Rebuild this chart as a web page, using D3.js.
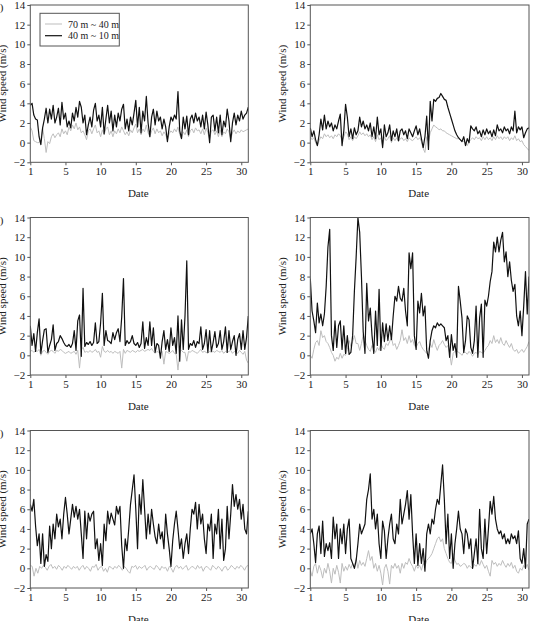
<!DOCTYPE html>
<html><head><meta charset="utf-8">
<script src="https://cdn.jsdelivr.net/npm/d3@7"></script>
<style>
body{margin:0;background:#fff;}
text{font-family:"Liberation Serif","Times New Roman",serif;}
</style></head>
<body>
<svg id="c" width="543" height="621"></svg>
<script>
const yTicks = [-2,0,2,4,6,8,10,12,14];
const xTickVals = [0,5,10,15,20,25,30];
const xTickLabels = ["1","5","10","15","20","25","30"];
const seriesNames = ["70 m ~ 40 m","40 m ~ 10 m"];
const panelTags = ["(a)","(b)","(c)","(d)","(e)","(f)"];

const grayA = [1.6,1.2,0.2,0.1, 0.0,0.0,0.3,1.5, 0.4,-1.0,0.1,-0.1, 0.6,0.9,0.5,0.8, 1.0,0.6,1.4,0.9, 1.2,0.8,1.6,1.2, 1.8,1.4,2.0,1.3, 1.6,1.0,1.2,0.8, 0.3,1.2,1.4,0.9, 1.4,1.8,1.0,1.2, 0.6,1.3,0.8,1.4, 1.6,0.8,1.2,0.6, 1.2,0.9,1.4,1.0, 1.6,1.2,0.8,1.1, 0.7,1.3,1.0,1.5, 1.9,1.0,1.4,0.8, 1.4,1.1,1.8,1.0, 0.6,1.2,1.5,0.9, 1.4,1.0,1.2,0.7, 1.1,0.8,0.3,0.9, 1.2,1.0,1.4,1.1, 1.6,0.8,0.4,1.1, 0.8,1.3,0.6,1.2, 1.4,1.0,1.5,1.2, 1.3,0.9,1.4,0.8, 1.5,1.0,0.4,1.2, 1.3,0.8,1.2,0.6, 1.3,0.6,1.1,0.9, 1.4,1.1,0.4,1.0, 1.3,0.9,1.2,1.0, 1.3,1.1,1.2,1.3, 1.4];
const blackA = [3.8,4.0,2.8,2.4, 2.3,0.6,-0.2,1.5, 2.4,3.5,2.0,3.4, 2.4,3.8,2.0,2.6, 3.5,1.8,4.1,2.4, 3.0,1.6,2.2,1.5, 3.0,2.2,3.6,2.6, 4.2,3.6,2.0,2.8, 0.8,1.8,2.6,1.6, 3.3,4.0,2.2,2.8, 1.6,3.6,0.9,2.4, 3.8,2.0,3.2,1.2, 2.8,1.6,3.0,2.2, 3.4,3.9,1.4,2.4, 1.2,2.6,1.8,3.0, 4.3,1.6,3.6,1.0, 3.2,2.2,4.7,2.0, 0.6,2.6,3.4,1.8, 3.2,2.2,2.6,1.4, 2.4,1.6,0.1,1.6, 2.6,2.2,2.8,2.4, 5.2,1.2,0.4,2.6, 1.4,2.7,0.8,2.4, 2.8,2.0,3.0,2.2, 2.6,1.6,2.8,1.4, 3.1,1.8,0.0,2.6, 2.8,1.2,2.6,1.0, 2.8,0.8,2.2,1.6, 3.4,2.2,0.1,2.0, 3.0,1.8,2.8,2.2, 3.2,2.4,2.8,3.0, 3.6];

const grayB = [0.6,0.3,0.5,0.0, -0.3,0.2,0.6,0.4, 0.9,0.6,0.8,0.5, 0.7,0.4,0.8,0.6, 0.9,0.7,0.2,0.6, 1.1,0.9,0.3,0.6, 0.2,0.6,0.4,0.7, 1.1,0.8,1.0,0.7, 0.9,0.6,0.8,0.3, 0.6,0.1,0.8,0.3, 0.5,-0.3,0.6,0.2, 0.4,0.7,0.0,0.5, 0.2,0.5,0.1,0.4, 0.5,0.2,0.4,0.1, 0.5,0.3,0.2,0.4, 0.6,0.3,0.5,0.1, -0.6,-1.0,0.6,0.1, 1.0,1.4,1.8,1.6, 1.5,1.3,1.4,1.2, 1.2,1.0,0.9,0.8, 0.7,0.6,0.5,0.4, 0.4,0.3,0.2,0.1, 0.0,-0.3,0.1,0.3, 0.5,0.3,0.6,0.4, 0.5,0.2,0.6,0.3, 0.6,0.3,0.5,0.2, 0.6,0.3,0.7,0.4, 0.6,0.3,0.6,0.4, 0.6,0.2,0.5,0.3, 0.7,0.2,0.4,0.1, 0.2,-0.2,-0.4,-0.6, -0.8];
const blackB = [1.5,0.6,1.2,0.3, -0.3,0.8,2.4,1.3, 2.8,1.4,2.2,1.6, 2.0,1.2,1.8,1.4, 2.2,2.9,-0.3,1.2, 3.9,2.6,0.6,1.4, 0.4,1.5,0.8,1.2, 2.6,1.6,2.2,1.4, 1.8,1.2,2.0,0.6, 1.6,0.4,2.6,0.8, 1.4,-0.5,1.8,0.6, 1.0,1.8,0.2,1.2, 0.6,1.4,0.2,1.2, 1.4,0.8,1.2,0.4, 1.4,1.0,0.6,1.2, 1.7,0.8,1.4,0.4, -0.5,0.6,2.7,-0.7, 4.2,2.2,4.4,4.2, 4.5,4.6,5.0,4.7, 4.4,4.3,3.6,3.0, 2.4,1.8,1.2,0.8, 0.5,0.3,0.1,0.6, -0.3,0.4,0.0,1.7, 1.4,1.2,1.6,0.9, 1.2,0.6,1.3,0.8, 1.4,0.9,1.2,0.6, 1.3,0.7,1.8,1.2, 1.4,1.0,1.6,1.2, 1.4,0.9,1.6,1.2, 3.2,1.0,1.6,1.3, 1.6,0.5,1.0,1.4, 1.5];

const grayC = [0.4,0.5,0.3,0.5, 0.4,0.6,0.0,0.4, 0.5,0.3,0.1,0.4, 0.5,0.4,0.2,0.5, 0.4,0.6,0.5,0.3, 0.2,0.3,0.4,0.2, 0.3,0.4,0.1,0.5, -1.3,0.6,0.8,0.3, 0.4,0.3,0.5,0.3, 0.4,0.6,0.3,0.4, -0.2,0.9,0.4,0.3, 0.5,0.3,0.4,0.2, 0.4,0.3,0.2,0.4, -1.3,0.6,0.2,0.5, 0.4,0.3,0.5,0.4, 0.3,0.5,0.4,0.5, 0.6,0.4,0.5,0.6, 0.5,0.7,0.4,0.2, 0.4,0.3,0.2,0.4, -0.9,0.4,0.3,0.2, 0.3,0.5,0.2,0.1, -1.5,0.4,0.5,0.3, 0.3,-0.6,0.4,0.3, 0.5,0.4,0.3,0.2, 0.4,0.6,0.3,0.4, 0.3,0.2,0.4,0.3, 0.4,0.3,0.5,0.4, 0.3,0.5,0.2,0.4, 0.3,0.4,0.5,0.2, 0.4,0.3,0.2,0.5, 0.3,0.1,0.4,-0.5, -0.8];
const blackC = [3.0,1.0,2.2,0.4, 2.3,3.7,0.2,1.5, 2.6,2.7,0.3,1.0, 1.6,3.1,0.5,1.2, 1.4,2.0,1.7,1.3, 1.0,0.9,1.1,0.8, 1.2,2.5,0.5,3.5, 4.1,-0.1,6.8,0.9, 1.3,1.1,1.4,1.0, 1.3,3.3,1.2,1.4, 3.3,6.3,1.0,2.5, 1.5,1.4,1.2,2.3, 1.6,2.3,2.7,1.4, 3.9,7.8,1.0,1.5, 1.2,1.4,2.0,1.2, 1.0,1.3,0.8,1.2, 3.4,0.7,1.8,1.0, 3.4,1.0,2.8,0.3, 1.2,1.0,-0.3,1.4, 2.5,0.6,1.6,0.4, 2.8,1.0,1.8,0.2, 4.0,-0.6,3.6,0.6, 4.0,9.6,0.6,1.2, 1.0,1.5,0.8,1.4, 1.2,2.9,0.6,1.2, 2.6,0.3,2.5,0.4, 1.3,2.4,0.8,1.2, 2.5,0.6,1.4,2.9, 0.3,2.5,0.6,1.4, 2.0,0.0,1.6,2.2, 0.6,2.5,0.6,1.8, 4.0];

const grayD = [0.0,-0.3,0.6,1.3, 1.5,1.0,2.5,1.8, 2.0,1.4,1.2,0.8, 0.3,0.0,-0.6,-0.2, -0.4,0.2,-0.3,0.1, 0.0,0.6,1.5,0.9, 1.4,2.0,1.2,1.2, 0.5,1.2,2.1,1.5, 1.0,0.6,0.4,1.0, 0.6,0.3,0.8,0.5, 1.2,0.8,0.6,1.2, 1.0,1.4,1.8,1.0, 1.2,0.6,1.0,1.5, 2.6,1.5,1.8,1.2, 2.0,1.3,1.6,1.0, 0.8,1.2,1.4,0.9, 0.6,0.4,0.2,0.6, 1.2,0.8,1.6,1.0, 0.5,1.0,1.2,1.5, 1.1,0.8,1.0,0.2, -1.0,0.2,0.4,0.5, 0.3,0.2,0.0,0.3, 0.3,0.1,0.4,0.2, -0.1,0.2,0.3,0.1, 0.4,0.3,0.2,0.5, 0.8,1.0,1.5,1.2, 2.0,1.3,1.6,1.2, 1.8,1.2,1.0,1.5, 1.1,0.8,1.2,0.6, 0.4,0.6,0.2,0.4, 0.6,0.3,0.6,0.9, 1.4];
const blackD = [7.8,4.5,3.5,2.3, 5.3,3.3,4.2,3.0, 4.2,7.0,11.0,12.8, 2.0,0.5,3.5,0.8, 3.0,3.5,0.6,3.0, 0.2,2.0,0.1,0.3, 2.0,6.5,10.0,14.0, 12.5,8.0,2.4,0.2, 7.3,3.5,4.8,2.0, 0.2,4.5,1.0,6.7, 0.5,3.3,1.4,3.2, 1.5,3.0,1.6,4.0, 6.0,5.5,7.0,5.8, 5.5,6.8,4.5,3.0, 10.4,8.8,10.4,2.0, 0.6,5.5,4.3,6.3, 4.0,5.0,0.5,-0.3, 1.5,2.5,3.0,2.8, 3.3,3.0,3.2,3.0, 2.8,1.5,2.0,-0.2, 2.1,0.5,1.2,-0.2, 7.0,5.5,3.8,0.3, 1.5,4.0,3.6,0.8, 0.2,1.5,5.0,-0.2, 3.8,5.2,-0.2,5.6, 5.0,6.0,7.5,8.5, 11.5,10.5,12.0,10.5, 11.7,12.5,9.5,10.5, 8.0,9.5,7.6,6.5, 7.2,4.0,3.0,4.5, 2.0,5.0,8.5,4.2, 8.0];

const grayE = [0.3,0.2,-0.8,0.0, -0.5,0.2,0.0,0.3, 0.1,-0.2,0.2,0.4, 0.0,0.2,-0.1,0.3, 0.1,-0.2,0.2,0.0, 0.3,0.1,-0.1,0.2, 0.0,0.2,-0.2,0.1, 0.3,-0.1,0.2,0.0, -0.3,0.2,0.1,0.4, -0.2,0.1,0.2,-0.3, 0.0,-0.4,0.2,0.1, -0.1,0.2,0.0,0.3, 0.1,-0.2,0.2,0.0, -0.3,-0.5,0.2,0.1, 0.3,-0.1,0.2,0.0, 0.1,0.3,-0.2,0.1, 0.2,0.0,-0.1,0.3, 0.1,-0.2,0.2,0.0, 0.1,-0.3,0.2,0.0, -0.4,0.1,0.3,0.0, 0.2,-0.1,0.1,0.3, -0.2,0.0,0.2,0.1, -0.1,0.3,0.0,0.2, -0.3,0.1,0.2,0.0, -0.2,0.3,0.1,-0.1, 0.2,0.0,-0.3,0.1, 0.2,-0.2,0.0,0.3, 0.1,-0.1,0.2,0.0, 0.3,0.1,-0.2,0.2, 0.3];
const blackE = [6.5,5.8,7.0,4.3, 2.3,3.5,0.5,3.5, 0.2,1.4,0.7,4.3, 2.0,4.5,3.0,5.5, 4.2,5.0,3.0,5.5, 7.2,5.5,3.5,5.0, 6.5,5.2,6.3,5.0, 6.0,3.5,1.0,5.8, 3.0,5.6,4.8,5.5, 5.8,2.0,3.0,0.8, 2.5,0.3,4.5,2.8, 5.8,4.5,5.6,5.0, 4.4,6.3,5.5,6.3, 2.3,0.0,3.0,1.8, 4.0,6.5,8.0,9.5, 6.0,2.0,7.5,5.5, 9.0,6.0,3.0,5.5, 3.5,6.0,4.5,3.2, 2.5,4.5,3.0,3.7, 2.0,5.5,3.5,2.0, 0.2,2.8,4.5,5.8, 4.0,2.0,3.0,1.0, 2.5,3.5,1.5,4.0, 6.0,5.5,6.7,4.0, 6.5,4.5,5.5,3.0, 1.5,4.5,3.8,5.5, 1.0,4.5,3.5,6.0, 2.0,5.0,0.8,2.0, 6.3,3.0,5.5,8.5, 6.3,7.5,6.0,7.0, 5.0,6.5,4.0,3.5, 5.8];

const grayF = [-0.2,-0.8,0.2,0.5, -0.5,0.3,-0.2,-1.0, 0.0,-0.5,0.5,-0.3, -1.5,0.0,-0.6,0.3, -0.4,-1.5,0.5,-0.3, 0.2,-0.2,0.4,0.0, 0.5,0.2,1.0,0.0, 0.8,0.3,0.6,0.2, 1.0,1.8,0.8,1.2, 0.0,0.5,-0.3,0.3, -0.5,-1.7,0.0,0.4, -0.3,-1.6,0.3,0.0, 0.5,0.0,0.3,-0.5, 0.5,0.0,0.6,0.4, 1.0,0.5,0.2,-0.3, 0.3,0.0,0.3,-0.2, 0.5,0.2,0.8,1.0, 1.2,1.5,2.0,2.5, 3.0,3.2,2.7,3.0, 2.0,1.5,1.0,0.6, 0.5,1.5,0.8,0.4, 0.5,0.2,0.3,0.5, 0.4,0.0,0.3,0.1, 0.0,0.4,0.2,0.5, 0.3,0.8,0.4,0.0, 0.3,-0.3,-0.8,0.8, 0.4,0.6,0.2,0.5, 0.3,0.8,0.4,0.1, 0.5,0.2,0.6,0.0, 0.3,-0.3,-0.5,0.0, -0.2,0.3,0.0,0.4, -0.2];
const blackF = [3.5,4.0,2.5,0.6, 3.5,4.3,1.5,4.8, 1.2,2.5,1.8,2.6, 1.0,5.2,3.0,4.5, 1.0,4.0,2.5,4.5, 1.5,4.0,5.0,1.0, 0.5,0.0,0.8,2.5, 4.5,3.5,4.0,4.5, 7.0,8.0,9.6,5.0, 6.0,4.0,5.5,2.5, 1.0,4.8,3.8,1.0, 3.0,4.5,5.5,3.0, 2.5,4.5,3.5,7.0, 4.5,5.5,6.5,7.9, 5.0,7.5,3.5,0.5, 3.5,0.3,2.5,0.5, 2.0,-0.3,3.5,4.5, 3.5,5.0,4.5,6.0, 7.0,6.5,8.5,10.5, 7.0,2.5,5.5,1.0, 3.5,0.0,2.5,4.0, 5.8,4.0,3.5,1.5, 4.0,3.5,2.0,3.0, 0.0,1.5,3.0,0.5, 6.0,2.0,1.0,5.0, 1.5,4.0,6.8,5.5, 7.3,5.0,4.0,3.5, 3.8,3.0,3.5,2.5, 3.0,2.5,3.5,3.0, 3.3,2.5,3.8,1.0, 0.5,2.0,0.0,4.5, 5.0];

const panels = [
  {gray: grayA, black: blackA, x0: 30.3, x1: 248.3, yt: 5, yb: 162.3, legend: true, tag: panelTags[0]},
  {gray: grayB, black: blackB, x0: 310.3, x1: 529, yt: 5, yb: 162.3, legend: false, tag: null},
  {gray: grayC, black: blackC, x0: 30.3, x1: 248.3, yt: 217.5, yb: 375, legend: false, tag: panelTags[2]},
  {gray: grayD, black: blackD, x0: 310.3, x1: 529, yt: 217.5, yb: 375, legend: false, tag: null},
  {gray: grayE, black: blackE, x0: 30.3, x1: 248.3, yt: 430.5, yb: 588, legend: false, tag: panelTags[4]},
  {gray: grayF, black: blackF, x0: 310.3, x1: 529, yt: 430.5, yb: 588, legend: false, tag: null}
];

const svg = d3.select("#c");
const frameCol = "#555";
const grayCol = "#bdbdbd";

panels.forEach((p, k) => {
  const x = d3.scaleLinear().domain([0, 31]).range([p.x0, p.x1]);
  const y = d3.scaleLinear().domain([-2, 14]).range([p.yb, p.yt]);
  const g = svg.append("g");
  const cid = "clip" + k;
  g.append("clipPath").attr("id", cid).append("rect")
    .attr("x", p.x0).attr("y", p.yt).attr("width", p.x1 - p.x0).attr("height", p.yb - p.yt);

  const line = arr => d3.line()
    .x((d, i) => x(i * 31 / (arr.length - 1)))
    .y(d => y(d))(arr);

  g.append("path").attr("d", line(p.gray)).attr("fill", "none")
    .attr("stroke", grayCol).attr("stroke-width", 1).attr("clip-path", `url(#${cid})`);
  g.append("path").attr("d", line(p.black)).attr("fill", "none")
    .attr("stroke", "#111").attr("stroke-width", 1.2).attr("stroke-linejoin", "round")
    .attr("clip-path", `url(#${cid})`);

  g.append("rect").attr("x", p.x0).attr("y", p.yt)
    .attr("width", p.x1 - p.x0).attr("height", p.yb - p.yt)
    .attr("fill", "none").attr("stroke", frameCol).attr("stroke-width", 1);

  const ya = g.append("g").attr("transform", `translate(${p.x0},0)`)
    .call(d3.axisLeft(y).tickValues(yTicks).tickSize(3).tickPadding(2)
      .tickFormat(d => d < 0 ? "\u2212" + Math.abs(d) : String(d)));
  const xa = g.append("g").attr("transform", `translate(0,${p.yb})`)
    .call(d3.axisBottom(x).tickValues(xTickVals).tickSize(3).tickPadding(2)
      .tickFormat((d, i) => xTickLabels[i]));
  [ya, xa].forEach(a => {
    a.select(".domain").remove();
    a.selectAll("line").attr("stroke", frameCol);
    a.selectAll("text").attr("font-size", 11).attr("fill", "#222")
      .attr("font-family", '"Liberation Serif","Times New Roman",serif');
  });

  g.append("text").attr("x", (p.x0 + p.x1) / 2 - 1).attr("y", p.yb + 35)
    .attr("text-anchor", "middle").attr("font-size", 11).attr("fill", "#222").text("Date");

  const cy = (p.yt + p.yb) / 2;
  const cx = p.x0 - 28;
  g.append("text").attr("transform", `translate(${cx},${cy}) rotate(-90)`)
    .attr("text-anchor", "middle").attr("dy", "0.35em")
    .attr("font-size", 11).attr("fill", "#222").text("Wind speed (m/s)");

  if (p.tag) {
    g.append("text").attr("x", 3.5).attr("y", p.yt + 6)
      .attr("text-anchor", "end").attr("font-size", 11).attr("fill", "#222").text(p.tag);
  }

  if (p.legend) {
    const lg = g.append("g");
    lg.append("rect").attr("x", 40).attr("y", 13.3).attr("width", 79.3).attr("height", 32.7)
      .attr("fill", "#fff").attr("stroke", frameCol).attr("stroke-width", 1);
    const rows = [{c: grayCol, w: 1, t: seriesNames[0], yy: 24}, {c: "#111", w: 1.2, t: seriesNames[1], yy: 35.7}];
    rows.forEach(r => {
      lg.append("line").attr("x1", 45).attr("x2", 62).attr("y1", r.yy).attr("y2", r.yy)
        .attr("stroke", r.c).attr("stroke-width", r.w);
      lg.append("text").attr("x", 68).attr("y", r.yy).attr("dy", "0.35em")
        .attr("font-size", 10).attr("fill", "#222").text(r.t);
    });
  }
});
</script>
</body></html>
